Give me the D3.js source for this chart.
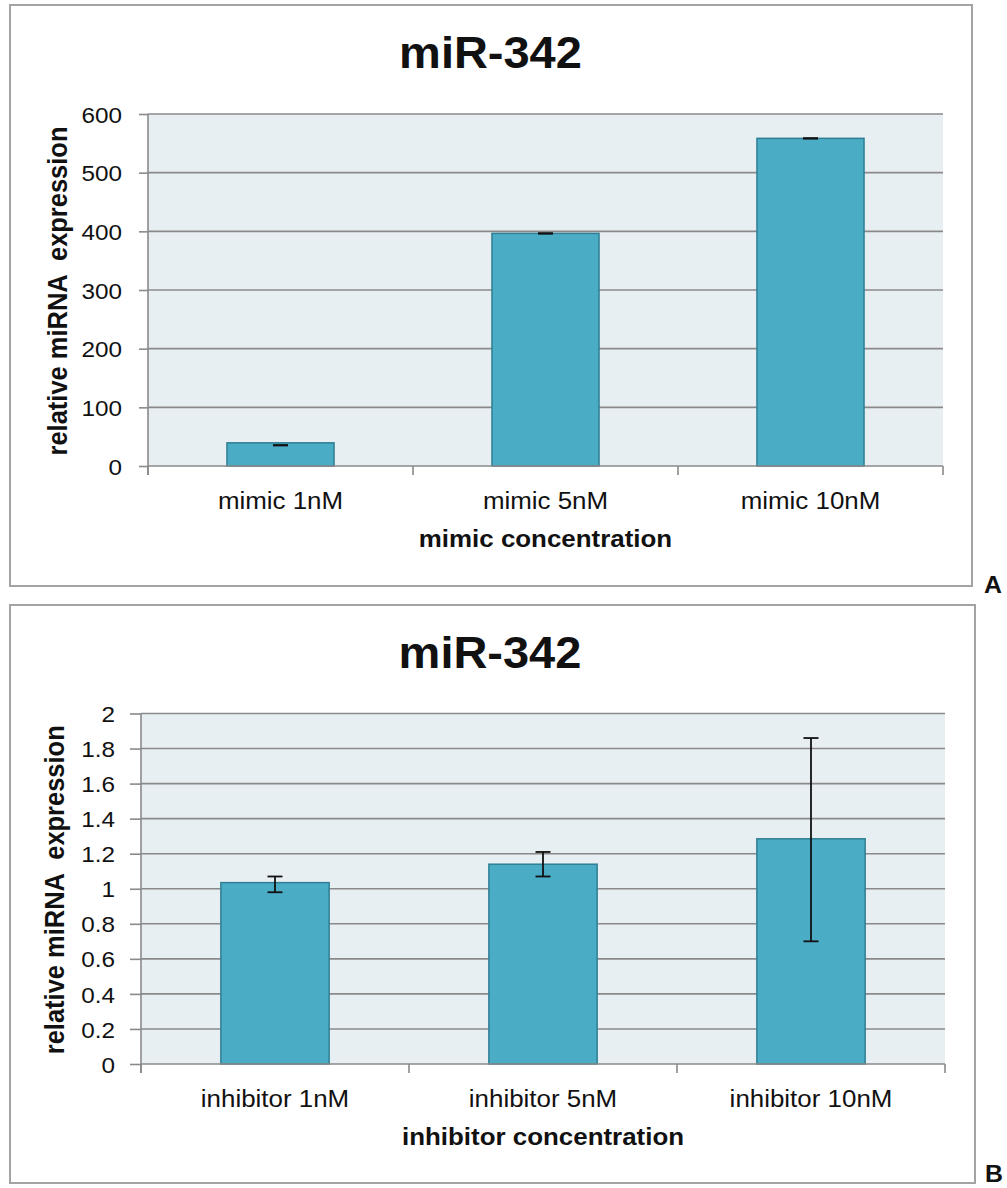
<!DOCTYPE html>
<html>
<head>
<meta charset="utf-8">
<script src="https://cdn.jsdelivr.net/npm/d3@7"></script>
<style>
  html, body { margin: 0; padding: 0; background: #ffffff; }
  svg { display: block; }
  text { font-family: "Liberation Sans", Arial, sans-serif; fill: #111; white-space: pre; }
</style>
</head>
<body>
<script>
// ---- Data ----
const chartTitle = "miR-342";
const yAxisTitle = "relative miRNA  expression";

const mimicCategories = ["mimic 1nM", "mimic 5nM", "mimic 10nM"];
const mimicValues = [39.5, 396.5, 558.5];
const mimicErrLow = [35, 396, 558];
const mimicErrHigh = [35.6, 396.8, 558.8];
const mimicTicks = [0, 100, 200, 300, 400, 500, 600];
const mimicTickLabels = ["0", "100", "200", "300", "400", "500", "600"];
const mimicAxisTitle = "mimic concentration";

const inhibitorCategories = ["inhibitor 1nM", "inhibitor 5nM", "inhibitor 10nM"];
const inhibitorValues = [1.035, 1.14, 1.285];
const inhibitorErrLow = [0.98, 1.07, 0.70];
const inhibitorErrHigh = [1.07, 1.21, 1.86];
const inhibitorTicks = [0, 0.2, 0.4, 0.6, 0.8, 1, 1.2, 1.4, 1.6, 1.8, 2];
const inhibitorTickLabels = ["0", "0.2", "0.4", "0.6", "0.8", "1", "1.2", "1.4", "1.6", "1.8", "2"];
const inhibitorAxisTitle = "inhibitor concentration";

// ---- Styling ----
const W = 1007, H = 1188;
const SX = 1.08;               // horizontal stretch of the lettering
const BAR_FILL = "#4bacc6";
const BAR_STROKE = "#2f7f94";
const PLOT_BG = "#e8eff3";
const GRID = "#8a8a8a";
const FRAME = "#a3a3a3";

const svg = d3.select("body").append("svg")
  .attr("width", W).attr("height", H);

function label(g, x, y, txt, opts = {}) {
  const t = g.append("text")
    .attr("transform", `translate(${x},${y}) scale(${SX},1)` + (opts.rotate ? ` rotate(${opts.rotate})` : ""))
    .attr("text-anchor", opts.anchor || "middle")
    .attr("xml:space", "preserve")
    .style("font-size", (opts.size || 24) + "px")
    .style("font-weight", opts.bold ? "bold" : "normal")
    .text(txt);
  return t;
}

function drawPanel(cfg) {
  const g = svg.append("g");

  // outer frame
  g.append("rect")
    .attr("x", cfg.frame[0]).attr("y", cfg.frame[1])
    .attr("width", cfg.frame[2] - cfg.frame[0]).attr("height", cfg.frame[3] - cfg.frame[1])
    .attr("fill", "#fff").attr("stroke", FRAME).attr("stroke-width", 2);

  const x = d3.scaleBand().domain(cfg.categories).range([cfg.left, cfg.right]).padding(0);
  const y = d3.scaleLinear().domain([0, d3.max(cfg.ticks)]).range([cfg.bottom, cfg.top]);

  // plot area
  g.append("rect")
    .attr("x", cfg.left).attr("y", cfg.top)
    .attr("width", cfg.right - cfg.left).attr("height", cfg.bottom - cfg.top)
    .attr("fill", PLOT_BG);

  // horizontal gridlines
  g.append("g").selectAll("line").data(cfg.ticks.filter(d => d > 0)).join("line")
    .attr("x1", cfg.left).attr("x2", cfg.right)
    .attr("y1", d => y(d)).attr("y2", d => y(d))
    .attr("stroke", GRID).attr("stroke-width", 1.6);

  // bars
  const barW = x.bandwidth() * 0.404;
  const data = cfg.categories.map((c, i) => ({
    c, v: cfg.values[i], lo: cfg.errLow[i], hi: cfg.errHigh[i]
  }));
  g.append("g").selectAll("rect").data(data).join("rect")
    .attr("x", d => x(d.c) + (x.bandwidth() - barW) / 2)
    .attr("y", d => y(d.v))
    .attr("width", barW)
    .attr("height", d => y(0) - y(d.v))
    .attr("fill", BAR_FILL)
    .attr("stroke", BAR_STROKE).attr("stroke-width", 1.5);

  // error bars
  const eg = g.append("g").attr("stroke", "#111").attr("stroke-width", 1.8);
  data.forEach(d => {
    const cx = x(d.c) + x.bandwidth() / 2;
    eg.append("line").attr("x1", cx).attr("x2", cx).attr("y1", y(d.hi)).attr("y2", y(d.lo));
    [d.lo, d.hi].forEach(v => {
      eg.append("line").attr("x1", cx - 7.5).attr("x2", cx + 7.5).attr("y1", y(v)).attr("y2", y(v));
    });
  });

  // y axis
  const yAxis = d3.axisLeft(y).tickValues(cfg.ticks)
    .tickFormat((d, i) => cfg.tickLabels[i])
    .tickSize(cfg.tickLen).tickPadding(cfg.tickPad);
  const ya = g.append("g").attr("transform", `translate(${cfg.left},0)`).call(yAxis);
  ya.select(".domain").attr("stroke", GRID).attr("stroke-width", 1.6)
    .attr("d", `M0,${cfg.top}V${cfg.bottom + 9}`);
  ya.selectAll(".tick line").attr("stroke", GRID).attr("stroke-width", 1.6);
  ya.selectAll(".tick text")
    .style("font-size", cfg.tickFont + "px")
    .style("font-family", '"Liberation Sans", Arial, sans-serif')
    .attr("fill", "#111")
    .attr("dy", "0.36em")
    .attr("transform", `scale(${SX},1)`)
    .attr("x", -(cfg.tickLen + cfg.tickPad) / SX);

  // x axis
  const xAxis = d3.axisBottom(x).tickSize(0).tickPadding(0).tickFormat("");
  const xa = g.append("g").attr("transform", `translate(0,${cfg.bottom})`).call(xAxis);
  xa.select(".domain").attr("stroke", GRID).attr("stroke-width", 1.6)
    .attr("d", `M${cfg.left},0H${cfg.right}`);
  xa.selectAll(".tick").remove();
  const bounds = [cfg.left, ...cfg.categories.map(c => x(c) + x.bandwidth())];
  xa.selectAll("line.sep").data(bounds).join("line").attr("class", "sep")
    .attr("x1", d => d).attr("x2", d => d).attr("y1", 0).attr("y2", 9)
    .attr("stroke", GRID).attr("stroke-width", 1.6);

  cfg.categories.forEach(c => {
    label(g, x(c) + x.bandwidth() / 2, cfg.bottom + 43, c, { size: 24 });
  });

  // titles
  label(g, (cfg.left + cfg.right) / 2, cfg.bottom + 81, cfg.axisTitle, { size: 24, bold: true });
  label(g, cfg.titleX, cfg.titleY, chartTitle, { size: 43.5, bold: true });
  label(g, cfg.yTitleX, (cfg.top + cfg.bottom) / 2 + 1, yAxisTitle, { size: 25.5, bold: true, rotate: -90 });

  // panel letter
  label(g, cfg.letterX, cfg.letterY, cfg.letter, { size: 23, bold: true, anchor: "start" });
}

drawPanel({
  frame: [10, 5, 972, 586],
  categories: mimicCategories, values: mimicValues,
  errLow: mimicErrLow, errHigh: mimicErrHigh,
  ticks: mimicTicks, tickLabels: mimicTickLabels,
  axisTitle: mimicAxisTitle,
  left: 148, right: 943, top: 114, bottom: 466,
  tickLen: 9, tickPad: 17, tickFont: 22.5,
  titleX: 490.5, titleY: 68, yTitleX: 67,
  letter: "A", letterX: 984, letterY: 593
});

drawPanel({
  frame: [10, 605, 975, 1183],
  categories: inhibitorCategories, values: inhibitorValues,
  errLow: inhibitorErrLow, errHigh: inhibitorErrHigh,
  ticks: inhibitorTicks, tickLabels: inhibitorTickLabels,
  axisTitle: inhibitorAxisTitle,
  left: 141, right: 945, top: 713.5, bottom: 1064,
  tickLen: 11, tickPad: 15, tickFont: 22.5,
  titleX: 490, titleY: 668, yTitleX: 64,
  letter: "B", letterX: 985, letterY: 1182
});
</script>
</body>
</html>
